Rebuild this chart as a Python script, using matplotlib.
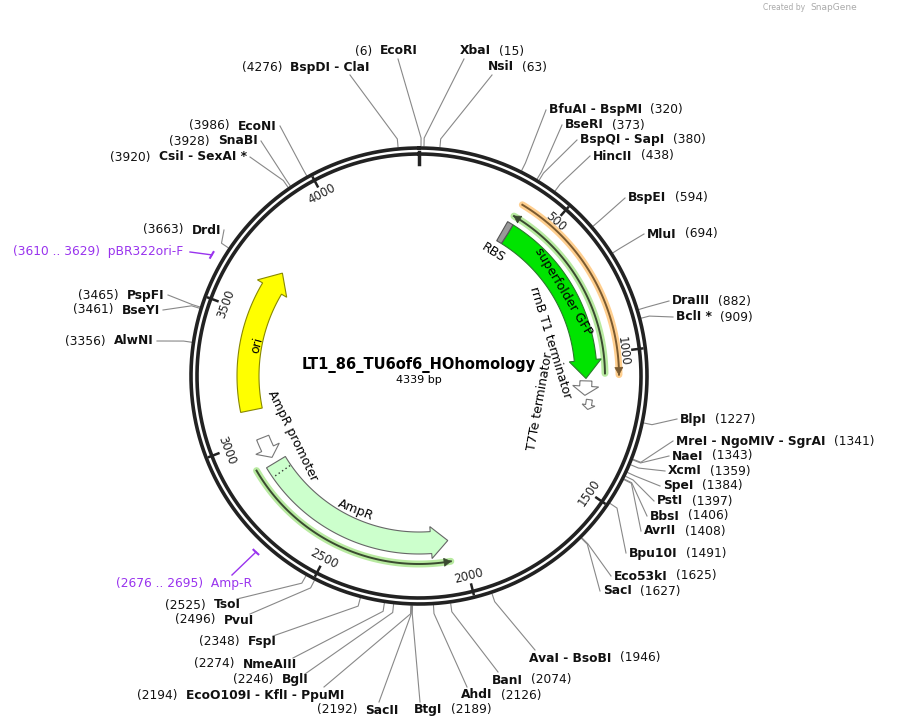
import numpy as np
import matplotlib
matplotlib.use("Agg")
import matplotlib.pyplot as plt
from matplotlib.patches import Polygon
from matplotlib.offsetbox import TextArea, HPacker, AnnotationBbox

L = 4339
title = "LT1_86_TU6of6_HOhomology"

# enzyme sites: (name, position)
enzymes_right = [("XbaI", 15), ("NsiI", 63), ("BfuAI - BspMI", 320), ("BseRI", 373),
                 ("BspQI - SapI", 380), ("HincII", 438), ("BspEI", 594), ("MluI", 694),
                 ("DraIII", 882), ("BclI *", 909), ("BlpI", 1227),
                 ("MreI - NgoMIV - SgrAI", 1341), ("NaeI", 1343), ("XcmI", 1359),
                 ("SpeI", 1384), ("PstI", 1397), ("BbsI", 1406), ("AvrII", 1408),
                 ("Bpu10I", 1491), ("Eco53kI", 1625), ("SacI", 1627),
                 ("AvaI - BsoBI", 1946), ("BanI", 2074), ("AhdI", 2126), ("BtgI", 2189)]
enzymes_left = [("SacII", 2192), ("EcoO109I - KflI - PpuMI", 2194), ("BglI", 2246),
                ("NmeAIII", 2274), ("FspI", 2348), ("PvuI", 2496), ("TsoI", 2525),
                ("AlwNI", 3356), ("BseYI", 3461), ("PspFI", 3465), ("DrdI", 3663),
                ("CsiI - SexAI *", 3920), ("SnaBI", 3928), ("EcoNI", 3986),
                ("BspDI - ClaI", 4276), ("EcoRI", 6)]
tick_values = [500, 1000, 1500, 2000, 2500, 3000, 3500, 4000]

# layout of labels (pixel anchors)
right_anchor = [(460, 51), (488, 67), (549, 110), (565, 125), (580, 140), (593, 156),
                (628, 198), (647, 234), (672, 301), (676, 317), (680, 419), (676, 441),
                (672, 456), (668, 471), (663, 486), (657, 501), (650, 516), (644, 531),
                (629, 553), (614, 576), (603, 591), (529, 658), (492, 680), (461, 695),
                (414, 710)]
left_anchor = [(399, 710), (344, 695), (309, 680), (297, 664), (277, 642), (254, 620),
               (241, 605), (154, 341), (160, 310), (165, 295), (221, 230), (247, 157),
               (258, 141), (277, 126), (370, 67), (418, 51)]

CX, CY, R = 419, 376, 228

fig = plt.figure(figsize=(9.07, 7.28), dpi=100)
ax = fig.add_axes([0, 0, 1, 1])
ax.set_xlim(0, 907)
ax.set_ylim(728, 0)
ax.axis("off")


def xy(p, r):
    t = 2 * np.pi * p / L
    return CX + r * np.sin(t), CY - r * np.cos(t)


def arc(p1, p2, r, n=80):
    ps = np.linspace(p1, p2, n)
    return [xy(p, r) for p in ps]


def arrow(p1, p2, r, w, fc, ec="#555555", head=None, hw=None, lw=0.8, z=3):
    d = 1 if p2 > p1 else -1
    if head is None:
        head = 60
    if hw is None:
        hw = w * 1.5
    pb = p2 - d * head
    pts = arc(p1, pb, r + w / 2) + [xy(pb, r + hw / 2), xy(p2, r), xy(pb, r - hw / 2)] \
        + arc(pb, p1, r - w / 2)
    ax.add_patch(Polygon(pts, closed=True, fc=fc, ec=ec, lw=lw, zorder=z))


def line_feature(p1, p2, r, halo, core, head_at_end=True):
    pts = np.array(arc(p1, p2, r))
    ax.plot(pts[:, 0], pts[:, 1], color=halo, lw=5, solid_capstyle="round", zorder=2)
    ax.plot(pts[:, 0], pts[:, 1], color=core, lw=1.4, zorder=2.5)
    if head_at_end:
        tip, base = p2, p2 - 25 * np.sign(p2 - p1)
    else:
        tip, base = p1, p1 + 25 * np.sign(p2 - p1)
    a, b, c = xy(base, r + 4), xy(tip, r), xy(base, r - 4)
    ax.add_patch(Polygon([a, b, c], closed=True, fc=core, ec=core, lw=0.5, zorder=2.6))


# backbone rings
th = np.linspace(0, 2 * np.pi, 400)
for rr in (R, R - 6):
    ax.plot(CX + rr * np.sin(th), CY - rr * np.cos(th), color="#222222", lw=2.6, zorder=4)
ax.plot([CX, CX], [CY - R + 4, CY - R + 16], color="#222222", lw=2.5, zorder=4)
for tv in tick_values:
    a = xy(tv, R - 3)
    b = xy(tv, R - 13)
    ax.plot([a[0], b[0]], [a[1], b[1]], color="#222222", lw=1.8, zorder=4)
    tx, ty = xy(tv, R - 22)
    rot = -360 * tv / L
    while rot <= -90:
        rot += 180
    while rot > 90:
        rot -= 180
    ax.text(tx, ty, str(tv), rotation=rot, ha="center", va="center", fontsize=8.5,
            color="#222222", rotation_mode="anchor")

# features
line_feature(375, 1080, 200, "#ffcf8f", "#7a5a30", head_at_end=True)
line_feature(370, 1075, 186, "#b8eaa0", "#3a4a30", head_at_end=False)
arrow(385, 1095, 167, 22, "#00e400", ec="#2a7a2a", head=75, hw=32)
arrow(360, 385, 167, 22, "#999999", ec="#555555", head=1, hw=22)
arrow(1105, 1165, 167, 12, "white", ec="#777777", head=38, hw=26)
arrow(1180, 1220, 172, 6, "white", ec="#777777", head=18, hw=13)
arrow(3115, 3700, 171, 22, "#ffff00", ec="#888800", head=75, hw=34)
arrow(2995, 2905, 168, 13, "white", ec="#777777", head=40, hw=26)
line_feature(2890, 2052, 188, "#b8eaa0", "#3a4a30", head_at_end=True)
arrow(2880, 2050, 167, 22, "#ccffcc", ec="#666666", head=70, hw=32)
ds = np.array([xy(2835, 157), xy(2835, 177)])
ax.plot(ds[:, 0], ds[:, 1], color="#333333", lw=1, ls=(0, (1, 2)), zorder=5)

# feature labels
gx, gy = xy(720, 167)
ax.text(gx, gy, "superfolder GFP", rotation=-59, ha="center", va="center", fontsize=9, zorder=6)
ax.text(493, 253, "RBS", rotation=-32, ha="center", va="center", fontsize=9)
ax.text(550, 343, "rrnB T1 terminator", rotation=-73, ha="center", va="center", fontsize=9)
ax.text(540, 401, "T7Te terminator", rotation=80, ha="center", va="center", fontsize=9)
ax.text(293, 436, "AmpR promoter", rotation=-64, ha="center", va="center", fontsize=9)
ax.text(356, 510, "AmpR", rotation=-22, ha="center", va="center", fontsize=9, zorder=6)
ax.text(257, 345, "ori", rotation=75, ha="center", va="center", fontsize=9, zorder=6)

ax.text(CX, 365, title, ha="center", va="center", fontsize=10.5, fontweight="bold")
ax.text(CX, 380, "4339 bp", ha="center", va="center", fontsize=8)
ax.text(805, 8, "Created by", ha="right", va="center", fontsize=5.5, color="#aaaaaa")
ax.text(810, 8, "SnapGene", ha="left", va="center", fontsize=6.5, color="#aaaaaa")


def label(parts, anchor, align):
    boxes = []
    for txt, bold in parts:
        boxes.append(TextArea(txt, textprops=dict(fontsize=8.8, color="#111111",
                                                  fontweight="bold" if bold else "normal")))
    pk = HPacker(children=boxes, align="baseline", pad=0, sep=6)
    ab = AnnotationBbox(pk, anchor, xycoords="data", frameon=False, pad=0,
                        box_alignment=(0 if align == "left" else 1, 0.5))
    ax.add_artist(ab)


def leader(p, end):
    a = xy(p, R + 2)
    b = xy(p, R + 10)
    ax.plot([a[0], b[0], end[0]], [a[1], b[1], end[1]], color="#888888", lw=0.8, zorder=1)


for (name, pos), (x, y) in zip(enzymes_right, right_anchor):
    label([(name, True), (f"({pos})", False)], (x, y), "left")
    if y < 80:
        leader(pos, (x + 4, y + 8))
    elif y > 650:
        leader(pos, (x + 6, y - 8))
    else:
        leader(pos, (x - 3, y))
for (name, pos), (x, y) in zip(enzymes_left, left_anchor):
    label([(f"({pos})", False), (name, True)], (x, y), "right")
    if y < 80:
        leader(pos, (x - 20, y + 8))
    elif y > 600:
        leader(pos, (x - 4, y - 6) if y < 690 else (x - 20, y - 8))
    else:
        leader(pos, (x + 3, y))

# primers
for (lab, p1, p2, lx, ly, ex, ey) in [("(3610 .. 3629)  pBR322ori-F", 3610, 3629, 183, 252, 190, 252),
                                      ("(2676 .. 2695)  Amp-R", 2676, 2695, 252, 583, 232, 575)]:
    pts = np.array(arc(p1, p2, R + 12))
    ax.plot(pts[:, 0], pts[:, 1], color="#9933ee", lw=1.5)
    m = xy((p1 + p2) / 2, R + 12)
    ax.plot([m[0], ex], [m[1], ey], color="#9933ee", lw=1)
    ax.text(lx, ly, lab, ha="right", va="center", fontsize=8.8, color="#9933ee")

fig.savefig("out.png", dpi=100)
